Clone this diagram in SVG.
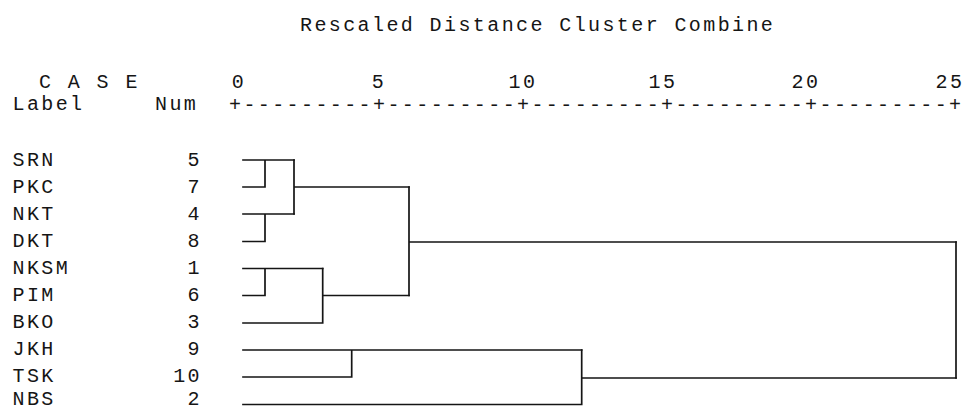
<svg xmlns="http://www.w3.org/2000/svg" width="963" height="410" viewBox="0 0 963 410">
<style>
  text { font-family: "Liberation Mono", "DejaVu Sans Mono", monospace; font-size: 20px; fill: #151515; letter-spacing: 2.4px; }
  .num { text-anchor: end; }
  .ax { text-anchor: middle; }
  .axis { letter-spacing: 2.4px; }
  #connectors path { fill: none; stroke: #151515; stroke-width: 1.7; stroke-linecap: square; }
</style>
<rect width="963" height="410" fill="#ffffff"/>
<g id="header">
  <text x="300" y="31">Rescaled Distance Cluster Combine</text>
  <text x="39" y="88">C A S E</text>
  <text x="12.5" y="110">Label</text>
  <text x="155" y="110">Num</text>
  <text class="ax" x="239" y="88">0</text>
  <text class="ax" x="379" y="88">5</text>
  <text class="ax" x="523" y="88">10</text>
  <text class="ax" x="663" y="88">15</text>
  <text class="ax" x="806" y="88">20</text>
  <text class="ax" x="950" y="88">25</text>
  <text class="axis" x="229" y="111">+---------+---------+---------+---------+---------+</text>
</g>
<g id="case-SRN"><text x="12.5" y="166">SRN</text><text class="num" x="202" y="166">5</text></g>
<g id="case-PKC"><text x="12.5" y="193">PKC</text><text class="num" x="202" y="193">7</text></g>
<g id="case-NKT"><text x="12.5" y="220">NKT</text><text class="num" x="202" y="220">4</text></g>
<g id="case-DKT"><text x="12.5" y="247">DKT</text><text class="num" x="202" y="247">8</text></g>
<g id="case-NKSM"><text x="12.5" y="274">NKSM</text><text class="num" x="202" y="274">1</text></g>
<g id="case-PIM"><text x="12.5" y="301">PIM</text><text class="num" x="202" y="301">6</text></g>
<g id="case-BKO"><text x="12.5" y="328">BKO</text><text class="num" x="202" y="328">3</text></g>
<g id="case-JKH"><text x="12.5" y="355">JKH</text><text class="num" x="202" y="355">9</text></g>
<g id="case-TSK"><text x="12.5" y="381.5">TSK</text><text class="num" x="202" y="381.5">10</text></g>
<g id="case-NBS"><text x="12.5" y="405">NBS</text><text class="num" x="202" y="405">2</text></g>
<g id="connectors">
  <path d="M243,160 H294 M265,160 V187 M243,187 H265"/>
  <path d="M243,214 H294 M265,214 V241.5 M243,241.5 H265"/>
  <path d="M294,160 V214 M294,187 H409"/>
  <path d="M243,268.5 H322.7 M265,268.5 V295.5 M243,295.5 H265"/>
  <path d="M322.7,268.5 V323 M243,323 H322.7 M322.7,295.5 H409"/>
  <path d="M409,187 V295.5 M409,242 H956"/>
  <path d="M243,350 H581.7 M351.7,350 V377 M243,377 H351.7"/>
  <path d="M581.7,350 V404.5 M243,404.5 H581.7 M581.7,378 H956"/>
  <path d="M956,242 V378"/>
</g>
</svg>
